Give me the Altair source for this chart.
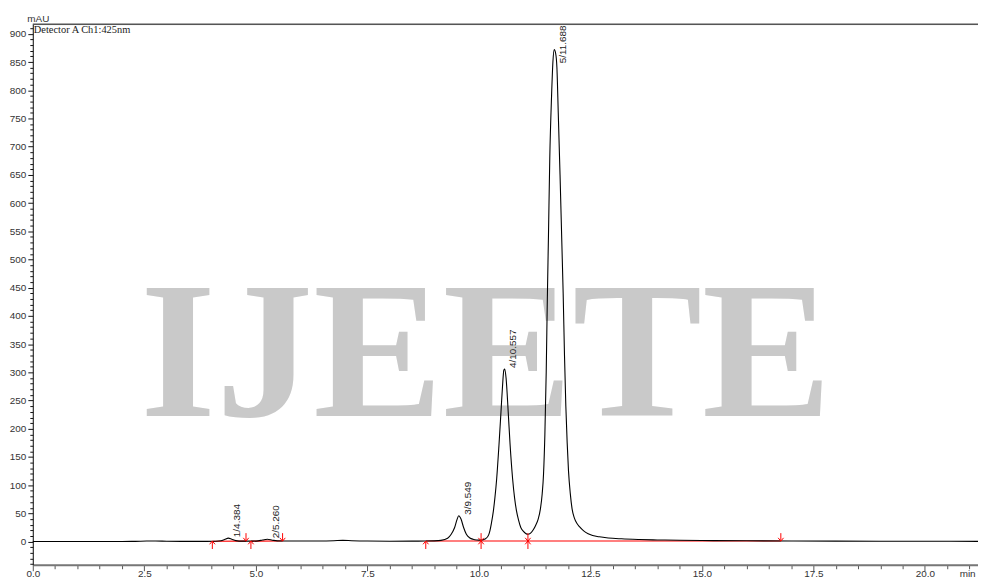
import altair as alt
import pandas as pd

# ---- chromatogram trace (retention time in min, signal in mAU) ----
time_min = [0.0, 0.5, 1.0, 1.5, 2.0, 2.3, 2.55, 2.75, 3.0, 3.5, 3.9, 4.1, 4.22, 4.3, 4.384,
            4.46, 4.55, 4.7, 4.9, 5.05, 5.15, 5.26, 5.37, 5.48, 5.65, 6.0, 6.4, 6.75, 6.95,
            7.15, 7.5, 8.0, 8.5, 8.8, 9.0, 9.15, 9.3, 9.38, 9.457, 9.51, 9.549, 9.6, 9.658,
            9.72, 9.8, 9.87, 9.95, 10.05, 10.15, 10.22, 10.25, 10.28, 10.325, 10.36, 10.4,
            10.45, 10.496, 10.53, 10.56, 10.58, 10.61, 10.658, 10.7, 10.756, 10.8, 10.845,
            10.89, 10.94, 11.0, 11.05, 11.1, 11.16, 11.22, 11.28, 11.33, 11.38, 11.42, 11.45,
            11.48, 11.51, 11.535, 11.56, 11.59, 11.63, 11.66, 11.69, 11.72, 11.75, 11.78,
            11.82, 11.86, 11.89, 11.92, 11.95, 11.98, 12.01, 12.05, 12.09, 12.14, 12.2, 12.26,
            12.35, 12.45, 12.55, 12.7, 12.9, 13.2, 13.6, 14.0, 14.5, 15.0, 16.0, 17.0, 18.0,
            19.0, 20.0, 21.19]
signal_mau = [0.2, 0.2, 0.1, 0.2, 0.3, 0.5, 1.0, 1.1, 0.7, 0.4, 0.4, 0.6, 1.5, 3.8, 6.2,
              4.2, 1.8, 0.9, 0.9, 1.4, 2.8, 4.2, 2.6, 1.4, 1.1, 1.0, 1.1, 1.6, 2.2,
              1.6, 1.0, 0.8, 0.9, 1.0, 1.3, 2.2, 6.0, 13.0, 25.0, 39.0, 46.0, 40.0, 25.0,
              13.0, 6.5, 4.2, 3.0, 2.6, 5.0, 12.0, 20.0, 32.0, 54.0, 78.0, 112.0,
              170.0, 230.0, 275.0, 304.0, 306.0, 290.0, 230.0, 172.0, 112.0, 78.0, 54.0,
              38.0, 25.0, 18.0, 14.5, 13.0, 15.0, 21.0, 30.0, 40.0, 58.0, 85.0, 120.0,
              190.0, 300.0, 430.0, 540.0, 680.0, 790.0, 850.0, 872.0, 866.0, 840.0, 760.0,
              650.0, 530.0, 440.0, 330.0, 240.0, 175.0, 125.0, 85.0, 58.0, 42.0, 32.0, 26.0,
              19.0, 14.0, 11.0, 8.5, 6.5, 5.0, 3.8, 3.0, 2.4, 2.0, 1.5, 1.1, 0.9,
              0.7, 0.6, 0.5]

# ---- detected peaks ----
peak_no = [1, 2, 3, 4, 5]
peak_rt = [4.384, 5.260, 9.549, 10.557, 11.688]
peak_height = [6.2, 4.2, 46.0, 306.0, 872.0]

# ---- integration baselines (red) ----
base_segment = [1, 1, 2, 2, 3, 3]
base_time = [4.025, 4.78, 4.89, 5.60, 8.81, 16.77]
base_level = [0.6, 0.9, 0.9, 1.1, 1.0, 1.0]

# ---- integration markers ----
start_marks = [4.025, 4.89, 8.81, 10.05, 11.10]
end_marks = [4.78, 5.60, 10.05, 11.10, 16.77]
marker_level = 1.0

X_DOMAIN = [0, 21.19]
Y_DOMAIN = [-41, 917]
W, H = 953, 545

trace = pd.DataFrame({"t": time_min, "v": signal_mau})
peaks = pd.DataFrame({"no": peak_no, "rt": peak_rt, "h": peak_height})
peaks["label"] = [f"{n}/{r:.3f}" for n, r in zip(peak_no, peak_rt)]
base = pd.DataFrame({"seg": base_segment, "t": base_time, "v": base_level})
ups = pd.DataFrame({"t": start_marks, "v": [marker_level] * len(start_marks)})
downs = pd.DataFrame({"t": end_marks, "v": [marker_level] * len(end_marks)})

x_ticks = [i * 0.5 for i in range(43)]
y_ticks = list(range(-40, 911, 10))

xscale = alt.Scale(domain=X_DOMAIN, nice=False, zero=False)
yscale = alt.Scale(domain=Y_DOMAIN, nice=False, zero=False)

x_axis = alt.Axis(
    values=x_ticks, tickCount=500,
    labelExpr="datum.value % 2.5 === 0 ? format(datum.value, '.1f') : ''",
    tickSize={"condition": {"test": "datum.value % 2.5 === 0", "value": 6}, "value": 4},
    tickColor="#555", domainColor="#777", domainWidth=2, tickWidth=1,
    labelFont="Liberation Sans", labelFontSize=10, labelColor="#333",
    labelBaseline="alphabetic", labelPadding=6,
    labelOverlap=False, labelBound=False, labelFlush=False,
    grid=False, title="min", titleFont="Liberation Sans", titleFontSize=10,
    titleFontWeight="normal", titleColor="#333", titleAlign="left", titleAnchor="start",
    titleX=934, titleY=12, titleBaseline="alphabetic",
)
y_axis = alt.Axis(
    values=y_ticks, tickCount=500,
    labelExpr="datum.value % 50 === 0 ? format(datum.value, 'd') : ''",
    tickSize={"condition": {"test": "datum.value % 50 === 0", "value": 5}, "value": 3},
    tickColor="#111", domainColor="#111", domainWidth=1, tickWidth=1,
    labelFont="Liberation Sans", labelFontSize=10, labelColor="#333", labelPadding=2,
    labelOverlap=False, labelBound=False, labelFlush=False,
    grid=False, title="mAU", titleFont="Liberation Sans", titleFontSize=10,
    titleFontWeight="normal", titleColor="#333", titleAngle=0, titleAlign="left",
    titleBaseline="alphabetic", titleX=-6, titleY=-3,
)

watermark = alt.Chart(pd.DataFrame({"txt": ["IJEETE"]})).mark_text(
    font="Liberation Serif", fontWeight="bold", fontSize=196, color="#c9c9c9",
    align="center", baseline="alphabetic",
).encode(text="txt:N", x=alt.value(457), y=alt.value(395))

line = alt.Chart(trace).mark_line(
    color="black", strokeWidth=1.1, interpolate="monotone"
).encode(
    x=alt.X("t:Q", scale=xscale, axis=x_axis),
    y=alt.Y("v:Q", scale=yscale, axis=y_axis),
)

baseline = alt.Chart(base).mark_line(color="#ff0000", strokeWidth=1.1).encode(
    x=alt.X("t:Q", scale=xscale),
    y=alt.Y("v:Q", scale=yscale),
    detail="seg:N",
)

up_path = "M0,0L0,1.6M-0.55,0.65L0,0L0.55,0.65"
down_path = "M0,0L0,-1.6M-0.55,-0.65L0,0L0.55,-0.65"

up_marks = alt.Chart(ups).mark_point(
    shape=up_path, filled=False, color="#ff0000", strokeWidth=1, size=100, opacity=1
).encode(x=alt.X("t:Q", scale=xscale), y=alt.Y("v:Q", scale=yscale))
down_marks = alt.Chart(downs).mark_point(
    shape=down_path, filled=False, color="#ff0000", strokeWidth=1, size=100, opacity=1
).encode(x=alt.X("t:Q", scale=xscale), y=alt.Y("v:Q", scale=yscale))

labels = alt.Chart(peaks).transform_calculate(
    lv="min(datum.h, 846)"
).mark_text(
    angle=270, align="left", baseline="top", dx=1, dy=4,
    font="Liberation Sans", fontSize=10, color="#222",
).encode(
    x=alt.X("rt:Q", scale=xscale),
    y=alt.Y("lv:Q", scale=yscale),
    text="label:N",
)

top_border = alt.Chart(pd.DataFrame({"a": [0]})).mark_rule(
    color="#555", strokeWidth=1.5
).encode(x=alt.value(0), x2=alt.value(W), y=alt.value(0))

detector = alt.Chart(pd.DataFrame({"txt": ["Detector A Ch1:425nm"]})).mark_text(
    font="Liberation Serif", fontSize=10.5, color="#222", align="left", baseline="top",
).encode(text="txt:N", x=alt.value(1), y=alt.value(1))

chart = alt.layer(
    watermark, baseline, line, up_marks, down_marks, labels, top_border, detector
).properties(
    width=W, height=H,
    autosize=alt.AutoSizeParams(type="none"),
    padding={"left": 25, "top": 14, "right": 0, "bottom": 13},
).configure_view(stroke=None).configure(background="white")

chart.save("out.html", embed_options={"renderer": "svg", "actions": False})
